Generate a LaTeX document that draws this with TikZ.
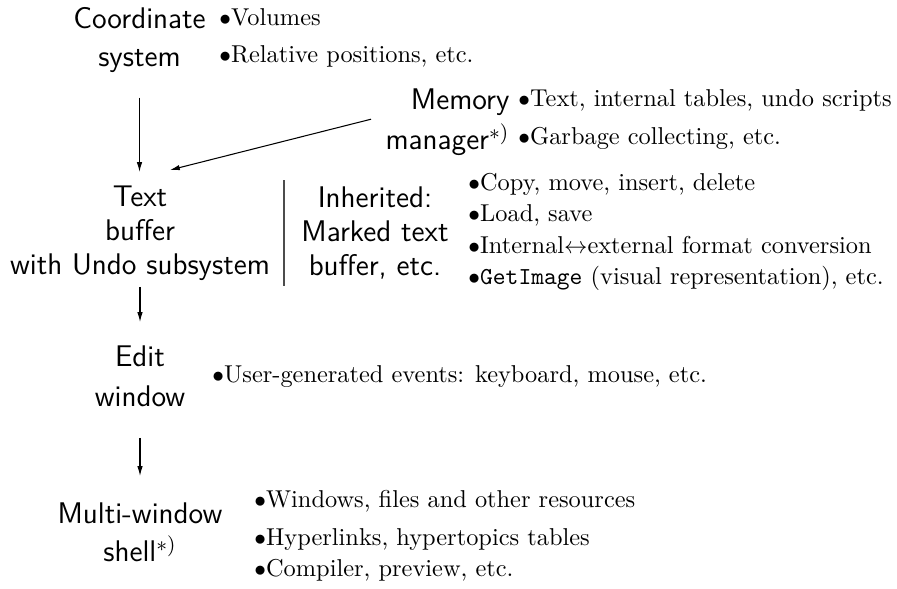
\documentclass[tikz,border=0pt]{standalone}
\usetikzlibrary{arrows.meta}
\begin{document}
\begin{tikzpicture}[x=0.4286pt,y=-0.4286pt,
  blk/.style={font=\sffamily\fontsize{12.8}{14.6}\selectfont, align=center, inner sep=0pt},
  item/.style={anchor=base west, inner sep=0pt, font=\fontsize{10.45}{12.5}\selectfont},
  flow/.style={-{Latex[length=4.2pt,width=2.3pt]}, line width=0.45pt}]
\useasboundingbox (0,0) rectangle (897,588);

% component blocks
\node[blk] (coord) at (139.5,40) {Coordinate\\[1.3pt]system};
\node[blk, align=right, anchor=east] (mem) at (510,122) {Memory\\[2.5pt]manager$^{*)}$};
\node[blk] (tbuf) at (140,233) {Text\\buffer\\with Undo subsystem};
\node[blk] (inh) at (375,233) {Inherited:\\Marked text\\buffer, etc.};
\node[blk] (edit) at (140,376) {Edit\\[2.5pt]window};
\node[blk] (shell) at (140,532) {Multi-window\\[1.7pt]shell$^{*)}$};

% feature lists
\node[item] (c1) at (219,25) {$\bullet$Volumes};
\node[item] (c2) at (219,62) {$\bullet$Relative positions, etc.};
\node[item] (m1) at (518,106) {$\bullet$Text, internal tables, undo scripts};
\node[item] (m2) at (518,144) {$\bullet$Garbage collecting, etc.};
\node[item] (t1) at (468,190) {$\bullet$Copy, move, insert, delete};
\node[item] (t2) at (468,221) {$\bullet$Load, save};
\node[item] (t3) at (468,253) {$\bullet$Internal$\leftrightarrow$external format conversion};
\node[item] (t4) at (468,284) {$\bullet$\texttt{GetImage} (visual representation), etc.};
\node[item] (e1) at (212,382) {$\bullet$User-generated events: keyboard, mouse, etc.};
\node[item] (s1) at (254,507) {$\bullet$Windows, files and other resources};
\node[item] (s2) at (254,545) {$\bullet$Hyperlinks, hypertopics tables};
\node[item] (s3) at (254,576) {$\bullet$Compiler, preview, etc.};

% separator between own and inherited parts
\coordinate (septop) at (284,180);
\coordinate (sepbot) at (284,286);
\draw[line width=0.45pt, black!70] (septop) -- (sepbot);

% connectors
\coordinate (tin) at (170,170);
\coordinate (mout) at ([xshift=-14*0.4286pt,yshift=1.2pt]mem.west);
\draw[flow] (coord.south) ++(0,25) coordinate (cdown) -- (cdown |- 0,172);
\draw[flow] (mout) -- (tin);
\draw[flow] (tbuf.south) ++(0,6) coordinate (tdown) -- (tdown |- 0,322);
\draw[flow] (edit.south) ++(0,31) coordinate (edown) -- (edown |- 0,476);
\end{tikzpicture}
\end{document}
